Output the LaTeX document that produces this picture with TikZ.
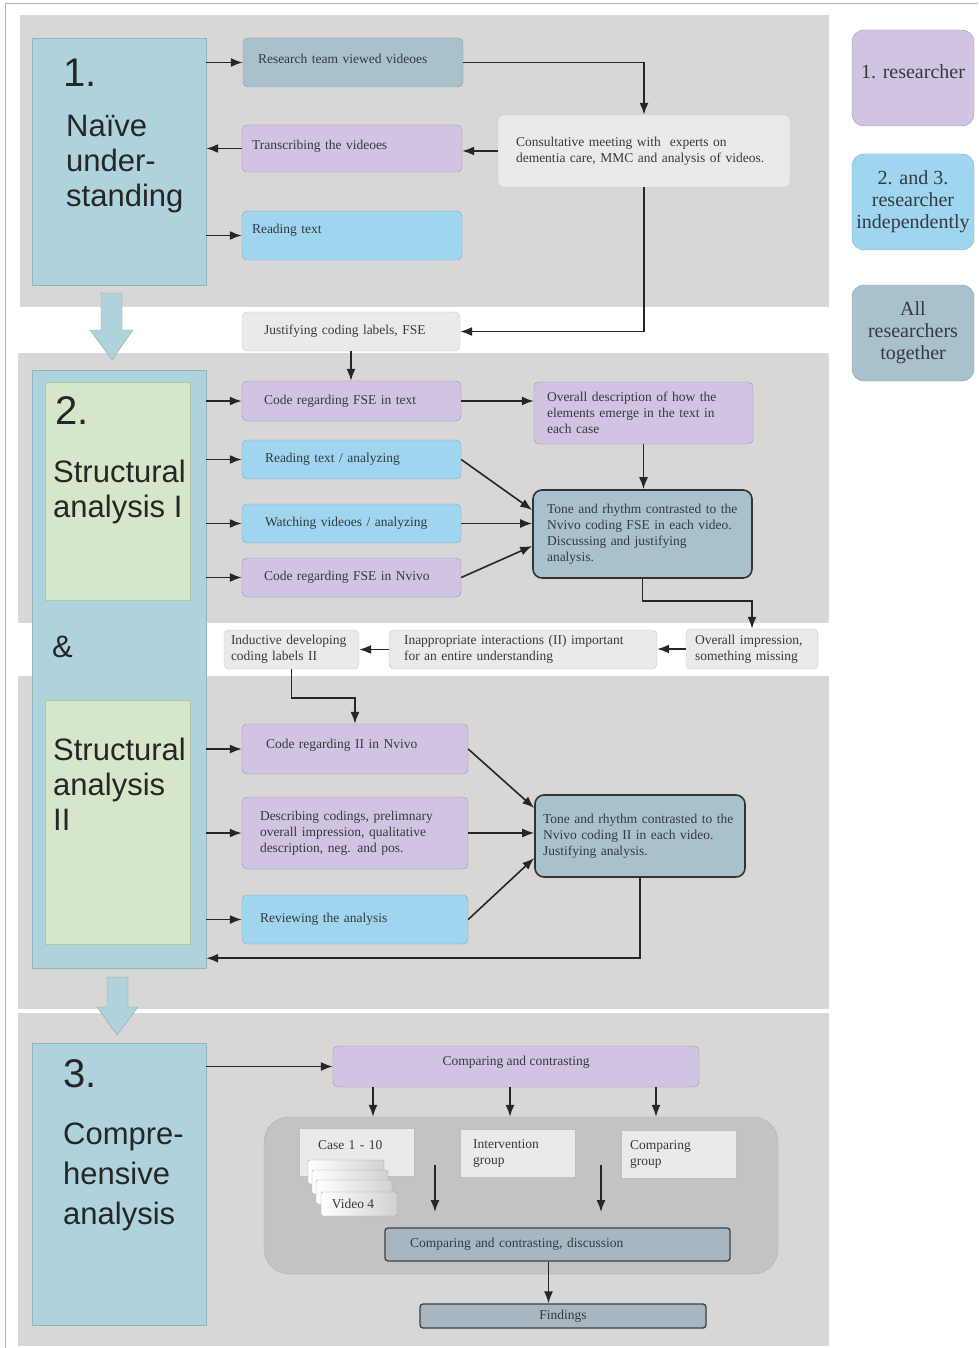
\documentclass[tikz,border=0pt]{standalone}
\usepackage{fontspec}
\setmainfont{Liberation Serif}
\newfontfamily\headfont{Liberation Sans}
\usetikzlibrary{arrows.meta}
\definecolor{secgray}{HTML}{D9D7D6}
\definecolor{colblue}{HTML}{AED3DD}
\definecolor{colgreen}{HTML}{D5E6C9}
\definecolor{purp}{HTML}{D1C4E2}
\definecolor{skyb}{HTML}{9FD5EF}
\definecolor{slate}{HTML}{A9C1CC}
\definecolor{pale}{HTML}{ECEAE8}
\definecolor{poolgray}{HTML}{C3C3C3}
\definecolor{darkslate}{HTML}{A7B6C0}
\definecolor{ink}{HTML}{343A40}

\begin{document}
\begin{tikzpicture}[x=1pt,y=-1pt,
  txt/.style={font=\fontsize{13.5}{16}\selectfont, text=ink, align=left, inner ysep=2pt, rounded corners=5pt},
  purplebox/.style={txt, fill=purp, draw=purp!75!black},
  bluebox/.style={txt, fill=skyb, draw=skyb!80!black},
  slatebox/.style={txt, fill=slate, draw=slate!80!black},
  palebox/.style={txt, fill=pale, draw=black!22},
  tonebox/.style={txt, fill=slate, draw=black!80, line width=1.6pt, rounded corners=9pt},
  darkbox/.style={txt, fill=darkslate, draw=black!75, line width=1.3pt, rounded corners=3pt, align=center},
  groupbox/.style={txt, fill=pale, draw=black!25, rounded corners=0pt},
  card/.style={draw=black!35, left color=white, right color=black!18, rounded corners=2pt, minimum width=76pt, minimum height=24pt, inner sep=0pt},
  stagebox/.style={fill=colblue, draw=colblue!85!black, inner sep=0pt},
  greenbox/.style={fill=colgreen, draw=colgreen!85!black, inner sep=0pt},
  headtxt/.style={font=\headfont\fontsize{31}{35}\selectfont, text=black!85, align=left, inner sep=0pt},
  numtxt/.style={font=\headfont\fontsize{40}{44}\selectfont, text=black!85, inner sep=0pt},
  legendbox/.style={font=\fontsize{20}{22}\selectfont, text=ink, align=center, rounded corners=12pt, minimum width=122pt, minimum height=96pt, inner sep=2pt},
  flow/.style={-{Latex[length=12pt,width=9pt]}, line width=1.6pt, draw=black!85},
  blockarrow/.style={fill=colblue, draw=colblue!80!black}]
\useasboundingbox (0,0) rectangle (978,1348);
\draw[black!30] (5,1348) -- (5,3) -- (978,3);

\fill[secgray, draw=black!15] (20,15) rectangle (828,306);
\fill[secgray, draw=black!15] (18,353) rectangle (828,622);
\fill[secgray, draw=black!15] (18,676) rectangle (828,1008);
\fill[secgray, draw=black!15] (18,1013) rectangle (828,1345);

\node[stagebox, minimum width=174pt, minimum height=247pt] (stage1) at (119,161.5) {};
\node[stagebox, minimum width=174pt, minimum height=598pt] (stage2) at (119,669) {};
\node[greenbox, minimum width=145pt, minimum height=218pt] (green1) at (117.5,491) {};
\node[greenbox, minimum width=145pt, minimum height=244pt] (green2) at (117.5,822) {};
\node[stagebox, minimum width=174pt, minimum height=282pt] (stage3) at (119,1184) {};

\node[numtxt, anchor=base west] (num1) at (63,87) {1.};
\node[headtxt, anchor=north west] (name1) at (66,115) {Naïve\\under-\\standing};
\node[numtxt, anchor=base west] (num2) at (55,424) {2.};
\node[headtxt, anchor=north west] (name2) at (53,460) {Structural\\analysis I};
\node[headtxt, anchor=base west] (amp) at (52,657) {\&};
\node[headtxt, anchor=north west] (name3) at (53,738) {Structural\\analysis\\II};
\node[numtxt, anchor=base west] (num3) at (63,1087) {3.};
\node[headtxt, anchor=north west, font=\headfont\fontsize{31}{40}\selectfont] (name4) at (63,1123) {Compre-\\hensive\\analysis};

\draw[blockarrow] (101,293) -- (122,293) -- (122,330) -- (133,330) -- (112,360) -- (90,330) -- (101,330) -- cycle;
\draw[blockarrow] (107,977) -- (128,977) -- (128,1007) -- (138,1007) -- (117,1035) -- (97,1007) -- (107,1007) -- cycle;

\node[slatebox, minimum height=49pt, inner xsep=15pt, text width=190pt, text depth=8pt] (r1) at (353,62.5) {Research team viewed videoes};
\node[purplebox, minimum height=47pt, inner xsep=10pt, text width=200pt, text depth=7pt] (t1) at (352,148.5) {Transcribing the videoes};
\node[bluebox, minimum height=49pt, inner xsep=10pt, text width=200pt, text depth=13.5pt] (rt) at (352,235.5) {Reading text};
\node[palebox, minimum height=72pt, inner xsep=18pt, text width=256pt] (cm) at (644,151) {Consultative meeting with\ \ experts on\\dementia care, MMC and analysis of videos.};
\node[palebox, minimum height=39pt, inner xsep=22pt, text width=174pt] (j) at (351,331.5) {Justifying coding labels, FSE};

\node[purplebox, minimum height=40pt, inner xsep=22pt, text width=175pt] (c1) at (351.5,401) {Code regarding FSE in text};
\node[purplebox, minimum height=62pt, inner xsep=13pt, text width=193pt] (od) at (643.5,413) {Overall description of how the\\elements emerge in the text in\\each case};
\node[bluebox, minimum height=39pt, inner xsep=23pt, text width=173pt] (rta) at (351.5,459.5) {Reading text / analyzing};
\node[bluebox, minimum height=39pt, inner xsep=23pt, text width=173pt] (wv) at (351.5,523.5) {Watching videoes / analyzing};
\node[purplebox, minimum height=39pt, inner xsep=22pt, text width=175pt] (cn) at (351.5,577.5) {Code regarding FSE in Nvivo};
\node[tonebox, minimum height=88pt, inner xsep=14pt, text width=191pt] (tr1) at (642.5,534) {Tone and rhythm contrasted to the\\Nvivo coding FSE in each video.\\Discussing and justifying\\analysis.};

\node[palebox, minimum height=40pt, inner xsep=9pt, text width=114pt] (oi) at (752,649) {Overall impression,\\something missing};
\node[palebox, minimum height=39pt, inner xsep=15pt, text width=238pt] (ia) at (523,649.5) {Inappropriate interactions (II) important\\for an entire understanding};
\node[palebox, minimum height=39pt, inner xsep=7pt, text width=121pt] (id) at (291.5,649.5) {Inductive developing\\coding labels II};

\node[purplebox, minimum height=50pt, inner xsep=24pt, text width=178pt, text depth=9.5pt] (c2) at (355,749) {Code regarding II in Nvivo};
\node[purplebox, minimum height=72pt, inner xsep=18pt, text width=190pt] (dc) at (355,833) {Describing codings, prelimnary\\overall impression, qualitative\\description, neg. and pos.};
\node[bluebox, minimum height=49pt, inner xsep=18pt, text width=190pt] (ra) at (355,919.5) {Reviewing the analysis};
\node[tonebox, minimum height=82pt, inner xsep=8pt, text width=194pt] (tr2) at (640,836) {Tone and rhythm contrasted to the\\Nvivo coding II in each video.\\Justifying analysis.\\[12pt]};

\node[purplebox, minimum height=41pt, minimum width=366pt, align=center, text depth=11.5pt] (cc) at (516,1066.5) {Comparing and contrasting};
\node[fill=poolgray, draw=black!30, rounded corners=25pt, minimum width=514pt, minimum height=157pt] (pool) at (521,1195.5) {};
\node[groupbox, minimum height=48pt, inner xsep=19pt, text width=77pt, text depth=13.5pt] (case) at (356.5,1152) {Case 1 - 10};
\node[card] (v1) at (346,1172) {};
\node[card] (v2) at (350,1182) {};
\node[card] (v3) at (354,1192) {};
\node[card, font=\fontsize{13.5}{16}\selectfont, text=ink] (v4) at (359,1204) {\hspace*{-12pt}Video 4};
\node[groupbox, minimum height=48pt, inner xsep=13pt, text width=89pt] (ig) at (517.5,1153) {Intervention\\group};
\node[groupbox, minimum height=48pt, inner xsep=9pt, text width=97pt] (cg) at (678.5,1154) {Comparing\\group};
\node[darkbox, minimum height=33pt, inner xsep=25pt, text width=295pt, align=left] (cd) at (557.5,1244.5) {Comparing and contrasting, discussion};
\node[darkbox, minimum height=24pt, minimum width=286pt] (f) at (563,1316) {Findings};
\coordinate (dropa) at (435,1165);
\coordinate (dropb) at (601,1165);

\node[legendbox, fill=purp, draw=purp!75!black, text depth=12pt] (l1) at (913,78) {1. researcher};
\node[legendbox, fill=skyb, draw=skyb!80!black] (l2) at (913,202) {2. and 3.\\researcher\\independently};
\node[legendbox, fill=slate, draw=slate!80!black] (l3) at (913,333) {All\\researchers\\together};

\draw[flow] (stage1.east |- r1) -- (r1);
\draw[flow] (t1) -- (stage1.east |- t1);
\draw[flow] (stage1.east |- rt) -- (rt);
\draw[flow] (r1) -| (cm);
\draw[flow] (cm.west) -- (cm.west -| t1.east);
\draw[flow] (cm) |- (j);
\draw[flow] (j.south) -- (j.south |- c1.north);

\draw[flow] (stage2.east |- c1) -- (c1);
\draw[flow] (stage2.east |- rta) -- (rta);
\draw[flow] (stage2.east |- wv) -- (wv);
\draw[flow] (stage2.east |- cn) -- (cn);
\draw[flow] (c1) -- (c1 -| od.west);
\draw[flow] (od) -- (od |- tr1.north);
\draw[flow] (rta.east) -- ([yshift=24pt]tr1.west);
\draw[flow] (wv) -- (wv -| tr1.west);
\draw[flow] (cn.east) -- ([yshift=-12pt]tr1.west);
\draw[flow] (tr1.south) -- ++(0,22) -| (oi.north);
\draw[flow] (oi.west) -- (oi.west -| ia.east);
\draw[flow] (ia.west) -- (ia.west -| id.east);
\draw[flow] (id.south) -- ++(0,29) -| (c2.north);

\draw[flow] (stage2.east |- c2) -- (c2);
\draw[flow] (stage2.east |- dc) -- (dc);
\draw[flow] (stage2.east |- ra) -- (ra);
\draw[flow] (c2.east) -- ([yshift=28pt]tr2.west);
\draw[flow] (dc) -- (dc -| tr2.west);
\draw[flow] (ra.east) -- ([yshift=-22pt]tr2.west);
\draw[flow] (tr2.south) |- ([yshift=10pt]stage2.south east);

\draw[flow] (stage3.east |- cc) -- (cc);
\foreach \dx in {-143,-6,140}
  \draw[flow] ([xshift=\dx pt]cc.south) -- ([xshift=\dx pt]cc.south |- pool.north);
\draw[flow] (dropa) -- ++(0,47);
\draw[flow] (dropb) -- ++(0,47);
\draw[flow] ([xshift=-9pt]cd.south) -- ([xshift=-9pt]cd.south |- f.north);
\end{tikzpicture}
\end{document}
